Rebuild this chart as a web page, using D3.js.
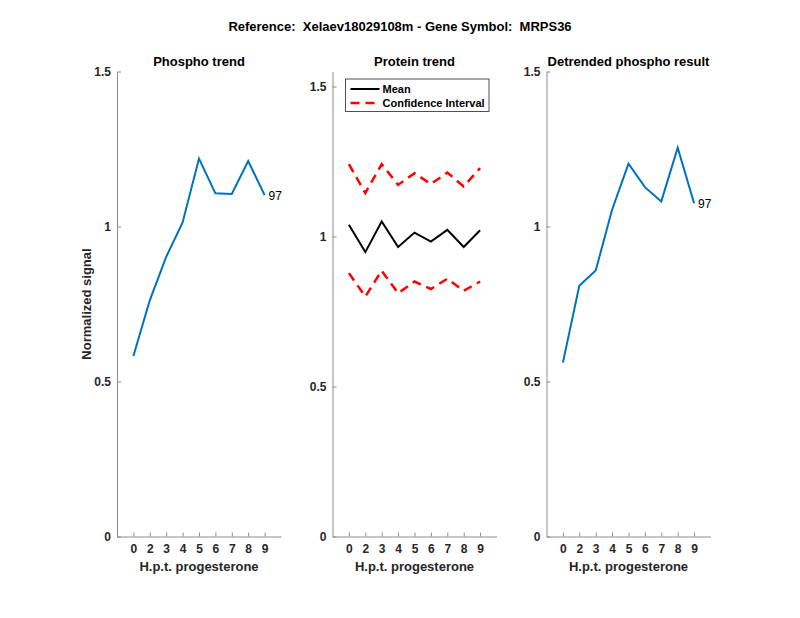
<!DOCTYPE html>
<html>
<head>
<meta charset="utf-8">
<script src="https://cdn.jsdelivr.net/npm/d3@7"></script>
<style>
  body { margin: 0; background: #fff; }
  text { font-family: "Liberation Sans", Arial, sans-serif; white-space: pre; }
  .tick text { font-weight: bold; font-size: 12px; fill: #262626; }
</style>
</head>
<body>
<script>
var timeLabels = ['0','2','3','4','5','6','7','8','9'];

var phospho = [0.582, 0.762, 0.902, 1.013, 1.219, 1.107, 1.105, 1.211, 1.101];
var proteinMean = [1.039, 0.948, 1.050, 0.965, 1.013, 0.983, 1.022, 0.965, 1.021];
var proteinUpper = [1.241, 1.145, 1.241, 1.172, 1.211, 1.175, 1.213, 1.167, 1.228];
var proteinLower = [0.878, 0.800, 0.886, 0.811, 0.850, 0.825, 0.859, 0.819, 0.850];
var detrended = [0.561, 0.809, 0.858, 1.054, 1.203, 1.127, 1.081, 1.254, 1.075];

var yTicks = [0, 0.5, 1, 1.5];
var pointLabel = '97';

var width = 800, height = 618;
var plotTop = 71.5, plotBottom = 536.5, plotW = 164;

var svg = d3.select('body').append('svg')
    .attr('width', width)
    .attr('height', height);

svg.append('text')
    .attr('x', 400).attr('y', 31)
    .attr('text-anchor', 'middle')
    .style('font-weight', 'bold').style('font-size', '13px')
    .attr('fill', '#000')
    .text('Reference:  Xelaev18029108m - Gene Symbol:  MRPS36');

function panel(left, title, ymax){
    var g = svg.append('g');
    var x = d3.scaleLinear().domain([0, 10]).range([left, left + plotW]);
    var y = d3.scaleLinear().domain([0, ymax]).range([plotBottom, plotTop]);

    var yAxis = d3.axisLeft(y)
        .tickValues(yTicks)
        .tickFormat(d3.format('~g'))
        .tickSizeInner(-4).tickSizeOuter(0).tickPadding(6);
    var xAxis = d3.axisBottom(x)
        .tickValues(d3.range(1, 10))
        .tickFormat(function(d){ return timeLabels[d - 1]; })
        .tickSizeInner(-4).tickSizeOuter(0).tickPadding(8);

    var ya = g.append('g').attr('transform', 'translate(' + left + ',0)').call(yAxis);
    var xa = g.append('g').attr('transform', 'translate(0,' + plotBottom + ')').call(xAxis);
    [ya, xa].forEach(function(a){
        a.select('.domain').attr('stroke', '#8c8c8c');
        a.selectAll('.tick line').attr('stroke', '#8c8c8c');
    });

    g.append('text')
        .attr('x', left + plotW / 2).attr('y', 66)
        .attr('text-anchor', 'middle')
        .style('font-weight', 'bold').style('font-size', '13px')
        .text(title);

    g.append('text')
        .attr('x', left + plotW / 2).attr('y', 571)
        .attr('text-anchor', 'middle')
        .style('font-weight', 'bold').style('font-size', '13px')
        .attr('fill', '#262626')
        .text('H.p.t. progesterone');

    var line = d3.line()
        .x(function(d, i){ return x(i + 1); })
        .y(function(d){ return y(d); });

    return {g: g, x: x, y: y, line: line};
}

function blueTrend(p, values){
    p.g.append('path')
        .datum(values)
        .attr('d', p.line)
        .attr('fill', 'none')
        .attr('stroke', '#0072BD')
        .attr('stroke-width', 2);
    var n = values.length;
    p.g.append('text')
        .attr('x', p.x(n) + 4).attr('y', p.y(values[n - 1]) + 5)
        .style('font-size', '12px')
        .text(pointLabel);
}

var p1 = panel(117, 'Phospho trend', 1.5);
blueTrend(p1, phospho);

svg.append('text')
    .attr('transform', 'translate(91,' + ((plotTop + plotBottom) / 2) + ') rotate(-90)')
    .attr('text-anchor', 'middle')
    .style('font-weight', 'bold').style('font-size', '13px')
    .attr('fill', '#262626')
    .text('Normalized signal');

var p2 = panel(332.5, 'Protein trend', 1.55);
[proteinUpper, proteinLower].forEach(function(s){
    p2.g.append('path')
        .datum(s)
        .attr('d', p2.line)
        .attr('fill', 'none')
        .attr('stroke', '#ff0000')
        .attr('stroke-width', 2.5)
        .attr('stroke-dasharray', '9,6');
});
p2.g.append('path')
    .datum(proteinMean)
    .attr('d', p2.line)
    .attr('fill', 'none')
    .attr('stroke', '#000')
    .attr('stroke-width', 2);

var legend = p2.g.append('g').attr('transform', 'translate(345.5,79)');
legend.append('rect')
    .attr('width', 143.5).attr('height', 32.5)
    .attr('fill', '#fff').attr('stroke', '#262626').attr('stroke-width', 0.8);
legend.append('line')
    .attr('x1', 5).attr('x2', 34).attr('y1', 10).attr('y2', 10)
    .attr('stroke', '#000').attr('stroke-width', 2);
legend.append('line')
    .attr('x1', 5).attr('x2', 34).attr('y1', 24).attr('y2', 24)
    .attr('stroke', '#ff0000').attr('stroke-width', 2.5).attr('stroke-dasharray', '9,6');
legend.append('text').attr('x', 37).attr('y', 14)
    .style('font-weight', 'bold').style('font-size', '11px').text('Mean');
legend.append('text').attr('x', 37).attr('y', 28)
    .style('font-weight', 'bold').style('font-size', '11px').text('Confidence Interval');

var p3 = panel(546.5, 'Detrended phospho result', 1.5);
blueTrend(p3, detrended);
</script>
</body>
</html>
